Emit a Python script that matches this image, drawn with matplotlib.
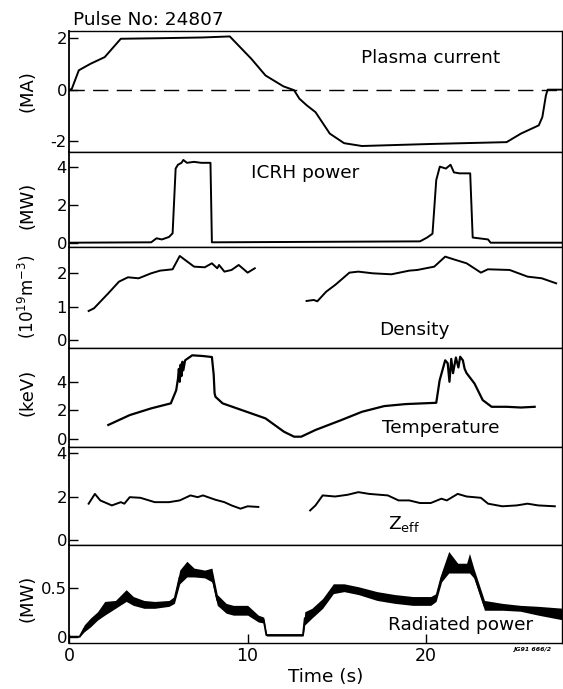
import matplotlib
matplotlib.use("Agg")
import matplotlib.pyplot as plt
import numpy as np

plt.rcParams['font.family'] = ['DejaVu Sans']
plt.rcParams['mathtext.fontset'] = 'dejavusans'

# ---------------- data ----------------
ip_t = [0, 0.15, 0.55, 1.2, 2.0, 2.9, 5.0, 7.5, 9.0, 10.2, 11.0, 12.0, 12.6, 12.9, 13.3, 13.8,
        14.6, 15.4, 16.4, 20.3, 24.5, 25.3, 26.3, 26.5, 26.7, 26.8, 27.7]
ip_v = [0, 0.02, 0.75, 1.0, 1.26, 1.97, 1.99, 2.02, 2.06, 1.2, 0.55, 0.13, -0.02, -0.35, -0.6, -0.87,
        -1.7, -2.07, -2.18, -2.1, -2.03, -1.7, -1.38, -1.06, -0.22, 0.0, 0.0]

icrh_t = [0, 4.6, 4.9, 5.2, 5.6, 5.8, 5.97, 6.1, 6.3, 6.4, 6.6, 7.0, 7.4, 7.92, 8.0,
          19.65, 20.05, 20.35, 20.56, 20.76, 21.1, 21.36, 21.55, 21.86, 22.46, 22.6, 23.46, 23.6, 27.7]
icrh_v = [0.03, 0.05, 0.26, 0.2, 0.33, 0.52, 3.9, 4.1, 4.2, 4.35, 4.2, 4.25, 4.2, 4.2, 0.05,
          0.1, 0.3, 0.5, 3.3, 4.0, 3.9, 4.1, 3.7, 3.65, 3.65, 0.3, 0.2, 0.03, 0.03]

dens1_t = [1.1, 1.4, 2.2, 2.8, 3.3, 3.9, 4.6, 5.1, 5.8, 6.2, 6.5, 7.0, 7.6, 8.0, 8.3, 8.4, 8.7,
           9.1, 9.5, 10.0, 10.4]
dens1_v = [0.87, 0.95, 1.4, 1.75, 1.88, 1.85, 2.0, 2.08, 2.12, 2.52, 2.4, 2.2, 2.18, 2.3, 2.15,
           2.25, 2.05, 2.1, 2.25, 2.02, 2.15]
dens2_t = [13.3, 13.7, 13.9, 14.4, 14.9, 15.7, 16.2, 17.0, 18.05, 19.05, 19.5, 20.45, 21.06,
           21.65, 22.26, 23.06, 23.45, 24.67, 25.67, 26.47, 27.27]
dens2_v = [1.17, 1.2, 1.16, 1.45, 1.65, 2.02, 2.05, 2.0, 1.97, 2.08, 2.1, 2.2, 2.5, 2.4, 2.3,
           2.02, 2.12, 2.1, 1.9, 1.85, 1.7]

temp_t = [2.2, 3.4, 4.6, 5.7, 6.0, 6.1, 6.15, 6.2, 6.25, 6.3, 6.35, 6.4, 6.5, 6.9, 7.5, 8.0, 8.1,
          8.15, 8.2, 8.6, 9.4, 10.2, 11.0, 12.03, 12.6, 13.0, 13.8, 15.24, 16.4, 17.65, 18.85,
          20.56, 20.75, 21.06, 21.2, 21.3, 21.4, 21.5, 21.66, 21.8, 21.9, 22.05, 22.15, 22.26,
          22.7, 23.16, 23.66, 24.5, 25.3, 26.07]
temp_v = [0.98, 1.67, 2.14, 2.49, 3.4, 4.2, 4.9, 4.0, 5.2, 4.4, 5.4, 4.8, 5.5, 5.85, 5.8, 5.73, 4.5,
          3.2, 2.95, 2.49, 2.14, 1.79, 1.44, 0.51, 0.16, 0.16, 0.63, 1.32, 1.9, 2.3, 2.44,
          2.53, 4.1, 5.5, 5.3, 4.0, 5.6, 4.6, 5.7, 5.0, 5.75, 5.5, 4.9, 4.6,
          3.88, 2.72, 2.25, 2.25, 2.2, 2.25]

zeff1_t = [1.1, 1.45, 1.75, 2.4, 2.9, 3.1, 3.4, 4.0, 4.8, 5.6, 6.2, 6.8, 7.2, 7.5, 8.2, 8.7, 9.1,
           9.6, 10.0, 10.6]
zeff1_v = [1.67, 2.12, 1.82, 1.59, 1.74, 1.67, 1.97, 1.94, 1.74, 1.74, 1.82, 2.05, 1.97, 2.05,
           1.85, 1.74, 1.59, 1.44, 1.55, 1.52]
zeff2_t = [13.5, 13.8, 14.2, 14.9, 15.6, 16.2, 16.8, 17.85, 18.45, 19.05, 19.65, 20.25, 20.85,
           21.15, 21.76, 22.26, 23.06, 23.46, 24.26, 25.06, 25.67, 26.27, 27.2]
zeff2_v = [1.36, 1.59, 2.05, 2.0, 2.08, 2.2, 2.12, 2.05, 1.82, 1.82, 1.7, 1.7, 1.9, 1.82, 2.12,
           2.0, 1.94, 1.67, 1.55, 1.59, 1.67, 1.59, 1.55]

rad_t = [0, 0.6, 0.85, 1.2, 1.6, 2.0, 2.6, 3.2, 3.6, 4.2, 4.8, 5.6, 5.9, 6.2, 6.6, 7.0, 7.6, 8.0,
         8.3, 8.8, 9.2, 10.0, 10.6, 10.9, 11.05, 13.1, 13.2, 13.6, 14.2, 14.8, 15.4, 16.2, 17.25,
         18.25, 19.25, 20.25, 20.55, 20.86, 21.26, 21.76, 22.26, 22.42, 22.66, 23.26, 24.27,
         25.27, 26.27, 27.7]
rad_hi = [0, 0, 0.12, 0.19, 0.255, 0.36, 0.37, 0.48, 0.41, 0.37, 0.36, 0.37, 0.41, 0.68, 0.77,
          0.70, 0.68, 0.70, 0.43, 0.34, 0.32, 0.32, 0.22, 0.20, 0.027, 0.027, 0.255, 0.29, 0.39,
          0.54, 0.54, 0.51, 0.46, 0.43, 0.41, 0.41, 0.44, 0.66, 0.87, 0.75, 0.75, 0.85, 0.70,
          0.37, 0.34, 0.32, 0.31, 0.29]
rad_lo = [0, 0, 0.05, 0.10, 0.17, 0.22, 0.29, 0.36, 0.32, 0.29, 0.29, 0.31, 0.34, 0.54, 0.61,
          0.61, 0.60, 0.56, 0.32, 0.24, 0.22, 0.22, 0.15, 0.14, 0.007, 0.007, 0.12, 0.19, 0.29,
          0.44, 0.46, 0.43, 0.37, 0.34, 0.32, 0.32, 0.36, 0.56, 0.65, 0.65, 0.65, 0.65, 0.60,
          0.27, 0.27, 0.26, 0.22, 0.17]

# ---------------- layout ----------------
W, H = 563, 689
fig = plt.figure(figsize=(W / 100, H / 100), dpi=100)
bounds = [31, 151.7, 247.3, 348.3, 446.7, 545, 642.7]
left_px, right_px = 69, 562
ylims = [(-2.40, 2.27), (-0.21, 4.78), (-0.25, 2.78), (-0.54, 6.34), (-0.23, 4.29), (-0.061, 0.936)]
yticks = [[-2, 0, 2], [0, 2, 4], [0, 1, 2], [0, 2, 4], [0, 2, 4], [0, 0.5]]
yticklabels = [['-2', '0', '2'], ['0', '2', '4'], ['0', '1', '2'], ['0', '2', '4'], ['0', '2', '4'], ['0', '0.5']]

axes = []
for i in range(6):
    top, bot = bounds[i], bounds[i + 1]
    rect = [left_px / W, 1 - bot / H, (right_px - left_px) / W, (bot - top) / H]
    ax = fig.add_axes(rect, sharex=axes[0] if axes else None)
    ax.set_xlim(0, 27.6)
    ax.set_ylim(*ylims[i])
    ax.set_yticks(yticks[i])
    ax.set_yticklabels(yticklabels[i])
    ax.tick_params(axis='both', direction='in', length=6.5, width=1.0, labelsize=11.8, pad=1.5)
    ax.tick_params(axis='x', pad=3, labelsize=12.5)
    for s in ax.spines.values():
        s.set_linewidth(1.0)
    ax.spines['left'].set_linewidth(1.3)
    if i < 5:
        ax.tick_params(axis='x', bottom=False, labelbottom=False)
    axes.append(ax)

ax1, ax2, ax3, ax4, ax5, ax6 = axes
ax6.set_xticks([0, 10, 20])

lc = 'black'
ax1.axhline(0, color=lc, lw=1.0, dashes=(11, 6))
ax1.plot(ip_t, ip_v, color=lc, lw=1.4)
ax2.plot(icrh_t, icrh_v, color=lc, lw=1.4)
ax3.plot(dens1_t, dens1_v, color=lc, lw=1.4)
ax3.plot(dens2_t, dens2_v, color=lc, lw=1.4)
ax4.plot(temp_t, temp_v, color=lc, lw=1.6)
ax5.plot(zeff1_t, zeff1_v, color=lc, lw=1.4)
ax5.plot(zeff2_t, zeff2_v, color=lc, lw=1.4)
ax6.fill_between(rad_t, rad_lo, rad_hi, color=lc, lw=0)
ax6.plot(rad_t, (np.array(rad_hi) + np.array(rad_lo)) / 2, color=lc, lw=1.4)

fs = 13.3
ax1.text(0.2, 2.69, 'Pulse No: 24807', fontsize=fs, ha='left', va='center', clip_on=False)
ax1.text(16.35, 1.22, 'Plasma current', fontsize=fs, ha='left', va='center')
ax2.text(10.2, 3.67, 'ICRH power', fontsize=fs, ha='left', va='center')
ax3.text(17.35, 0.3, 'Density', fontsize=fs, ha='left', va='center')
ax4.text(17.5, 0.77, 'Temperature', fontsize=fs, ha='left', va='center')
ax5.text(17.85, 0.75, r'Z$_{\mathrm{eff}}$', fontsize=fs, ha='left', va='center')
ax6.text(17.85, 0.12, 'Radiated power', fontsize=fs, ha='left', va='center')

def ylab(s, yc, size=13):
    fig.text(27 / W, 1 - yc / H, s, rotation=90, ha='center', va='center', fontsize=size)

ylab('(MA)', 91)
ylab('(MW)', 205)
ylab(r'(10$^{19}$m$^{-3}$)', 297, 12)
ylab('(keV)', 392)
ylab('(MW)', 598)

fig.text(326 / W, 1 - 677 / H, 'Time (s)', ha='center', va='center', fontsize=fs)
fig.text(513 / W, 1 - 650 / H, 'JG91 666/2', ha='left', va='center', fontsize=4.5,
         fontweight='bold', style='italic')

fig.savefig('out.png', dpi=100)
